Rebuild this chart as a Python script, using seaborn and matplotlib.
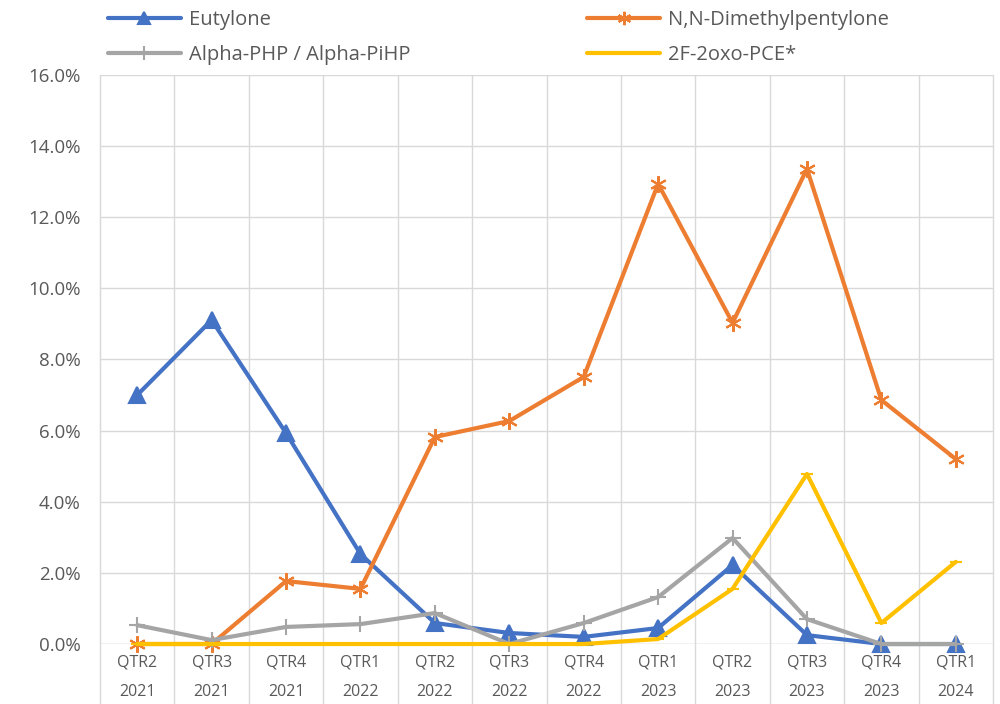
import matplotlib.pyplot as plt
import pandas as pd
import seaborn as sns
from matplotlib.ticker import PercentFormatter

quarters = ["QTR2", "QTR3", "QTR4", "QTR1", "QTR2", "QTR3", "QTR4",
            "QTR1", "QTR2", "QTR3", "QTR4", "QTR1"]
years = ["2021", "2021", "2021", "2022", "2022", "2022", "2022",
         "2023", "2023", "2023", "2023", "2024"]

eutylone = [7.0, 9.11, 5.93, 2.53, 0.59, 0.31, 0.2, 0.45, 2.22, 0.25, 0.0, 0.0]
dimethylpentylone = [0.0, 0.0, 1.77, 1.55, 5.82, 6.27, 7.51, 12.94, 9.03, 13.36, 6.86, 5.2]
alpha_php = [0.53, 0.11, 0.48, 0.56, 0.87, 0.0, 0.59, 1.32, 2.98, 0.70, 0.0, 0.0]
fluoro_pce = [0.0, 0.0, 0.0, 0.0, 0.0, 0.0, 0.0, 0.14, 1.55, 4.78, 0.59, 2.31]

series_names = ["Eutylone", "N,N-Dimethylpentylone", "Alpha-PHP / Alpha-PiHP", "2F-2oxo-PCE*"]
series_values = [eutylone, dimethylpentylone, alpha_php, fluoro_pce]

rows = []
for name, vals in zip(series_names, series_values):
    for i, v in enumerate(vals):
        rows.append({"period": i, "share": v / 100, "drug": name})
df = pd.DataFrame(rows)

palette = {
    "Eutylone": "#4472C4",
    "N,N-Dimethylpentylone": "#ED7D31",
    "Alpha-PHP / Alpha-PiHP": "#A5A5A5",
    "2F-2oxo-PCE*": "#FFC000",
}
markers = {
    "Eutylone": "^",
    "N,N-Dimethylpentylone": (6, 2, 0),
    "Alpha-PHP / Alpha-PiHP": "+",
    "2F-2oxo-PCE*": "_",
}
sizes = {"Eutylone": 11, "N,N-Dimethylpentylone": 12,
         "Alpha-PHP / Alpha-PiHP": 12, "2F-2oxo-PCE*": 8}

sns.set_style("white")
plt.rcParams["font.family"] = ["Open Sans", "DejaVu Sans"]
text_color = "#595959"
grid_color = "#D9D9D9"

fig = plt.figure(figsize=(10, 7.04), dpi=100)
ax = fig.add_axes([0.1, 0.0852, 0.893, 0.8083])

for name in series_names:
    sub = df[df["drug"] == name]
    sns.lineplot(data=sub, x="period", y="share", ax=ax, color=palette[name],
                 linewidth=3, marker=markers[name], markersize=sizes[name],
                 markeredgecolor=palette[name], markeredgewidth=1.5,
                 label=name, zorder=3, clip_on=False)

ax.set_xlim(-0.5, len(quarters) - 0.5)
ax.set_ylim(0, 0.16)
ax.set_yticks([i / 100 for i in range(0, 17, 2)])
ax.yaxis.set_major_formatter(PercentFormatter(1.0, decimals=1))
ax.grid(axis="y", color=grid_color, linewidth=1)
ax.set_axisbelow(True)

# category boundaries extend down through the two-level label area
for k in range(len(quarters) + 1):
    ax.axvline(k - 0.5, ymin=-0.106, ymax=1, color=grid_color, linewidth=1,
               clip_on=False, zorder=0)

for s in ["top", "right", "bottom"]:
    ax.spines[s].set_visible(False)
ax.spines["left"].set_color(grid_color)
ax.axhline(0, color=grid_color, linewidth=1, zorder=1)

ax.set_xticks(range(len(quarters)))
ax.set_xticklabels([])
ax.tick_params(axis="both", length=0)
ax.tick_params(axis="y", labelsize=13.5, labelcolor=text_color, pad=14)
for i, (q, y) in enumerate(zip(quarters, years)):
    ax.text(i, -0.0052, q, ha="center", va="center", fontsize=11.5,
            color=text_color, transform=ax.transData, clip_on=False)
    ax.text(i, -0.0136, y, ha="center", va="center", fontsize=11.5,
            color=text_color, transform=ax.transData, clip_on=False)
ax.set_xlabel("")
ax.set_ylabel("")

handles, labels = ax.get_legend_handles_labels()
order = [0, 2, 1, 3]
ax.legend([handles[i] for i in order], [labels[i] for i in order],
          ncol=2, loc="upper left", bbox_to_anchor=(0.0, 1.128),
          frameon=False, fontsize=14.5, labelcolor=text_color,
          handlelength=3.6, columnspacing=8.8, handletextpad=0.4,
          labelspacing=0.75, borderaxespad=0, markerscale=0.8)

fig.savefig("out.png", dpi=100)
